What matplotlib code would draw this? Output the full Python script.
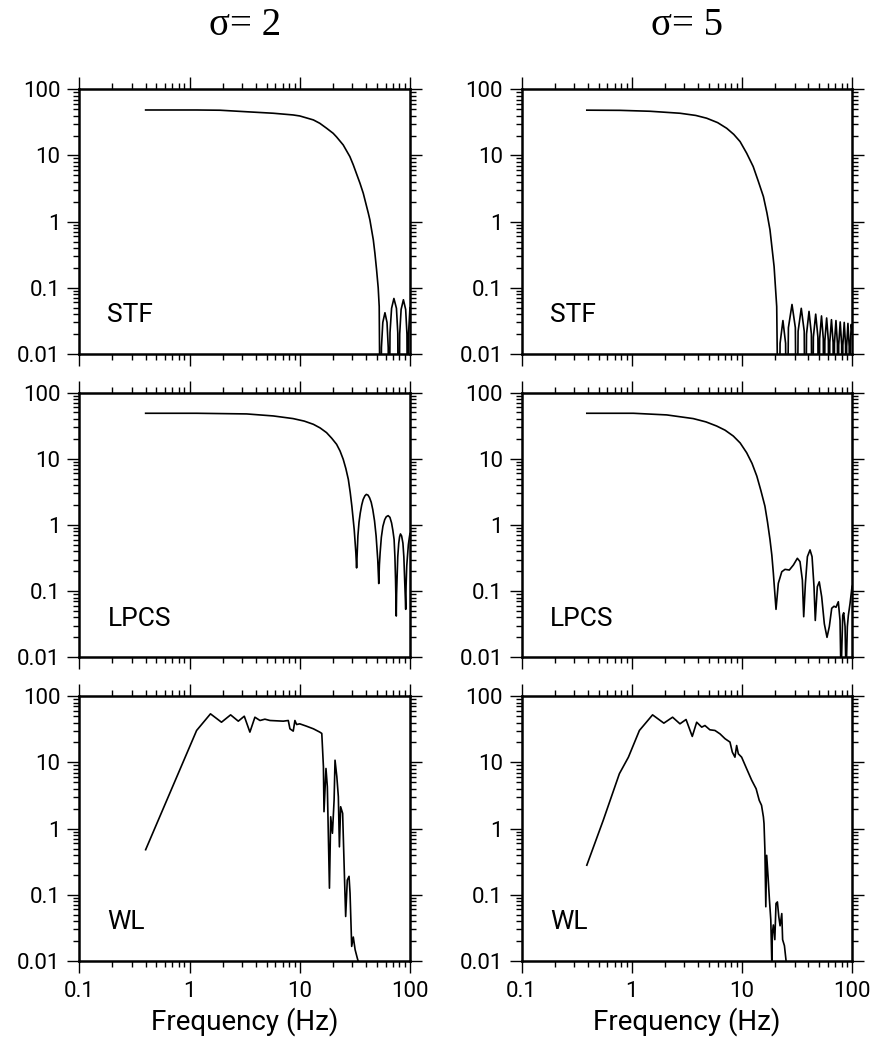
import numpy as np
import matplotlib
matplotlib.use("Agg")
import matplotlib.pyplot as plt
from matplotlib.ticker import LogLocator, NullFormatter

plt.rcParams["font.family"] = ["Roboto", "DejaVu Sans"]

# values
stf2_f = [0.4, 1.16, 1.89, 3.3, 5.75, 8.7, 10.0, 13.3, 15.2, 17.5, 20.1, 21.6, 24.8, 28.5, 30.6, 35.2, 37.7,
          41.9, 43.3, 46.5, 48.1, 49.8, 51.5, 52.6, 54.1,
          55.1, 56.7, 59.3, 61.9, 63.5, 64.5,
          65.9, 68.1, 71.5, 75.4, 77.5, 79.0,
          80.7, 83.1, 87.2, 91.4, 93.9, 95.5,
          97.0, 100.0]
stf2_a = [48.6, 48.6, 48.2, 45.7, 43.4, 40.9, 39.5, 34.4, 30.6, 25.8, 21.6, 19.0, 14.4, 9.6, 7.2, 3.8, 2.68,
          1.34, 1.06, 0.53, 0.33, 0.186, 0.10, 0.052, 1e-4,
          0.0126, 0.030, 0.042, 0.030, 0.0126, 1e-4,
          0.021, 0.049, 0.069, 0.049, 0.021, 1e-4,
          0.020, 0.047, 0.066, 0.047, 0.020, 1e-4,
          0.02, 0.05]

stf5_f = [0.39, 0.78, 1.46, 2.73, 3.8, 4.77, 6.0, 7.25, 8.4, 9.58, 11.0, 12.6, 14.0, 15.6, 16.8, 17.9, 19.5,
          20.6, 21.5,
          22.1, 23.45, 24.8, 25.4,
          26.3, 28.35, 30.4, 31.3,
          32.2, 34.4, 36.6, 37.5,
          38.4, 40.45, 42.5, 43.4,
          44.3, 46.5, 48.7, 49.6,
          50.5, 52.5, 54.5, 55.4,
          56.3, 58.45, 60.6, 61.5,
          62.4, 64.65, 66.9, 67.8,
          68.8, 71.0, 73.2, 74.2,
          75.2, 77.6, 80.0, 81.0,
          82.0, 84.4, 86.8, 87.8,
          88.8, 91.2, 93.6, 94.6,
          95.6, 97.8, 100.0]
stf5_a = [48.3, 48.0, 46.5, 43.4, 40.2, 36.5, 31.3, 25.7, 20.8, 16.2, 10.8, 6.8, 4.1, 2.39, 1.35, 0.75, 0.21,
          0.052, 1e-4,
          0.0145, 0.032, 0.0145, 1e-4,
          0.025, 0.056, 0.025, 1e-4,
          0.022, 0.049, 0.022, 1e-4,
          0.020, 0.044, 0.020, 1e-4,
          0.018, 0.040, 0.018, 1e-4,
          0.017, 0.0376, 0.017, 1e-4,
          0.0158, 0.035, 0.0158, 1e-4,
          0.0149, 0.033, 0.0149, 1e-4,
          0.0144, 0.032, 0.0144, 1e-4,
          0.0137, 0.0305, 0.0137, 1e-4,
          0.0135, 0.030, 0.0135, 1e-4,
          0.013, 0.029, 0.013, 1e-4,
          0.0126, 0.028, 0.02]

lpcs2_f = [0.4, 1.16, 3.3, 5.75, 8.7, 11.0, 13.3, 15.3, 17.5, 19.5, 21.6, 23.2, 24.8, 26.2, 27.6, 28.7, 29.7,
           31.2, 32.3, 32.8,
           33.7, 34.5, 35.4, 36.5, 37.6, 39.0, 40.2, 41.6, 43.0, 44.5, 46.0, 47.7, 49.3, 51.0, 52.1,
           52.8, 53.6, 55.0, 56.8, 59.0, 61.0, 63.4, 65.8, 68.1, 70.0, 71.8, 73.0, 74.0, 75.1,
           75.6, 76.3, 77.5, 79.1, 80.5, 82.0, 84.0, 86.3, 88.0, 89.5, 90.5, 91.5,
           92.2, 93.5, 94.9, 96.7, 98.5, 100.0]
lpcs2_a = [48.6, 48.6, 47.5, 44.3, 40.4, 37.0, 33.1, 29.2, 24.8, 20.4, 16.5, 13.1, 9.8, 7.1, 4.86, 3.1, 1.92,
           0.85, 0.377, 0.224,
           0.68, 1.1, 1.51, 2.0, 2.42, 2.75, 2.89, 2.82, 2.57, 2.2, 1.7, 1.15, 0.68, 0.30, 0.13,
           0.25, 0.377, 0.65, 0.95, 1.2, 1.33, 1.38, 1.3, 1.07, 0.82, 0.60, 0.33, 0.148, 0.042,
           0.09, 0.148, 0.33, 0.53, 0.66, 0.73, 0.68, 0.53, 0.33, 0.148, 0.09, 0.053,
           0.12, 0.24, 0.335, 0.5, 0.63, 0.74]

lpcs5_f = [0.39, 1.03, 2.07, 3.6, 4.7, 5.87, 7.0, 8.32, 9.6, 11.0, 12.3, 13.6, 14.8, 16.1, 17.0, 17.9, 18.6,
           19.2, 20.3,
           21.3, 22.9, 24.5, 26.8, 29.2, 31.7, 33.5, 35.2, 36.2,
           37.5, 39.1, 41.3, 43.1, 44.9, 46.1,
           48.1, 50.1, 52.7, 55.7, 58.9, 61.8, 65.0, 68.2, 71.1, 74.6, 77.3, 78.9,
           81.8, 83.5, 85.9, 87.7,
           90.1, 92.0, 95.3, 99.3, 100.0]
lpcs5_a = [48.6, 48.6, 45.9, 40.4, 36.0, 31.2, 27.0, 22.0, 17.3, 12.3, 8.5, 5.45, 3.3, 1.92, 1.1, 0.60, 0.35,
           0.187, 0.053,
           0.131, 0.196, 0.213, 0.208, 0.248, 0.313, 0.279, 0.147, 0.041,
           0.131, 0.331, 0.419, 0.331, 0.116, 0.036,
           0.116, 0.138, 0.082, 0.032, 0.020, 0.029, 0.055, 0.059, 0.057, 0.069, 0.036, 0.005,
           0.043, 0.047, 0.029, 0.005,
           0.029, 0.043, 0.065, 0.116, 0.12]

wl2_f = [0.4, 1.16, 1.55, 1.95, 2.36, 2.77, 3.14, 3.53, 3.92, 4.36, 4.83, 5.37, 6.17, 7.09,
         7.87, 8.15, 8.73, 9.04, 9.37, 10.0, 11.5, 13.3, 15.2, 15.85,
         16.4, 16.6, 17.3, 17.8, 18.6, 19.1, 19.8, 20.5, 20.9, 21.7, 22.4, 22.9, 23.5, 24.5, 25.4,
         26.1, 27.0, 28.0, 28.6, 29.6, 30.6, 31.8, 33.3, 35.2]
wl2_a = [0.48, 30.4, 54.2, 40.5, 52.3, 42.0, 49.9, 28.7, 48.2, 43.0, 45.0, 43.0, 42.5, 42.0,
         43.0, 32.2, 29.7, 43.0, 37.4, 38.3, 35.3, 32.2, 28.7, 27.4,
         8.6, 1.8, 8.1, 4.3, 0.126, 1.51, 0.85, 2.7, 10.8, 6.1, 3.03, 0.53, 2.14, 1.7, 0.21,
         0.047, 0.167, 0.19, 0.106, 0.0166, 0.023, 0.0148, 0.011, 0.008]

wl5_f = [0.39, 0.55, 0.77, 0.93, 1.17, 1.54, 1.95, 2.34, 2.73, 3.1, 3.53, 3.87, 4.3, 4.6, 5.1, 5.67,
         6.3, 7.0, 7.76, 8.15, 8.61, 8.92, 9.24, 9.9, 11.0, 12.2, 13.4, 14.3, 15.0, 15.6, 15.8,
         16.1, 16.4, 16.7, 17.2, 17.7, 18.2, 18.6, 18.8, 19.2, 19.8, 20.3, 20.9, 21.5, 22.1,
         22.9, 23.3, 24.2, 24.9, 25.4]
wl5_a = [0.28, 1.34, 6.75, 12.0, 30.4, 52.3, 39.2, 48.2, 38.3, 44.5, 24.7, 40.5, 34.1, 36.1, 31.1, 30.4,
         27.0, 22.8, 20.3, 14.3, 12.0, 18.0, 13.5, 12.0, 8.0, 5.4, 4.0, 2.67, 2.25, 1.5, 1.19,
         0.47, 0.066, 0.395, 0.186, 0.083, 0.042, 0.009, 0.026, 0.035, 0.021, 0.074, 0.078, 0.047, 0.034,
         0.052, 0.021, 0.017, 0.011, 0.008]

titles = ["\u03c3= 2", "\u03c3= 5"]
row_labels = ["STF", "LPCS", "WL"]
xticks = [0.1, 1, 10, 100]
xtick_labels = ["0.1", "1", "10", "100"]
yticks = [0.01, 0.1, 1, 10, 100]
ytick_labels = ["0.01", "0.1", "1", "10", "100"]

curves = [[(stf2_f, stf2_a), (stf5_f, stf5_a)],
          [(lpcs2_f, lpcs2_a), (lpcs5_f, lpcs5_a)],
          [(wl2_f, wl2_a), (wl5_f, wl5_a)]]

fig = plt.figure(figsize=(8.76, 10.39), dpi=100)

lefts = [0.0905, 0.5955]
bottoms = [0.6593, 0.3674, 0.0751]
w, h = 0.3775, 0.2548

for r in range(3):
    for c in range(2):
        ax = fig.add_axes([lefts[c], bottoms[r], w, h])
        f, a = curves[r][c]
        ax.plot(f, a, color="black", lw=1.2)
        ax.set_xscale("log")
        ax.set_yscale("log")
        ax.set_xlim(0.1, 100)
        ax.set_ylim(0.01, 100)
        ax.set_xticks(xticks, labels=xtick_labels if r == 2 else [""] * 4)
        ax.set_yticks(yticks, labels=ytick_labels)
        ax.xaxis.set_minor_locator(LogLocator(base=10, subs=np.arange(2, 10)))
        ax.yaxis.set_minor_locator(LogLocator(base=10, subs=np.arange(2, 10)))
        ax.xaxis.set_minor_formatter(NullFormatter())
        ax.yaxis.set_minor_formatter(NullFormatter())
        ax.tick_params(which="both", direction="out", top=True, right=True, width=1.0,
                       labelsize=16)
        ax.tick_params(which="major", length=8.5)
        ax.tick_params(which="minor", length=4.5)
        ax.tick_params(axis="x", which="major", pad=6)
        ax.tick_params(axis="y", which="major", pad=5)
        for s in ax.spines.values():
            s.set_linewidth(1.8)
        ax.text(0.085, 0.12, row_labels[r], transform=ax.transAxes, fontsize=19,
                va="baseline", ha="left")
        if r == 2:
            ax.set_xlabel("Frequency (Hz)", fontsize=20, labelpad=4)

fig.text(0.2793, 0.975, titles[0], ha="center", va="center", fontsize=28, family="Liberation Serif")
fig.text(0.7842, 0.975, titles[1], ha="center", va="center", fontsize=28, family="Liberation Serif")

fig.savefig("out.png", dpi=100)
